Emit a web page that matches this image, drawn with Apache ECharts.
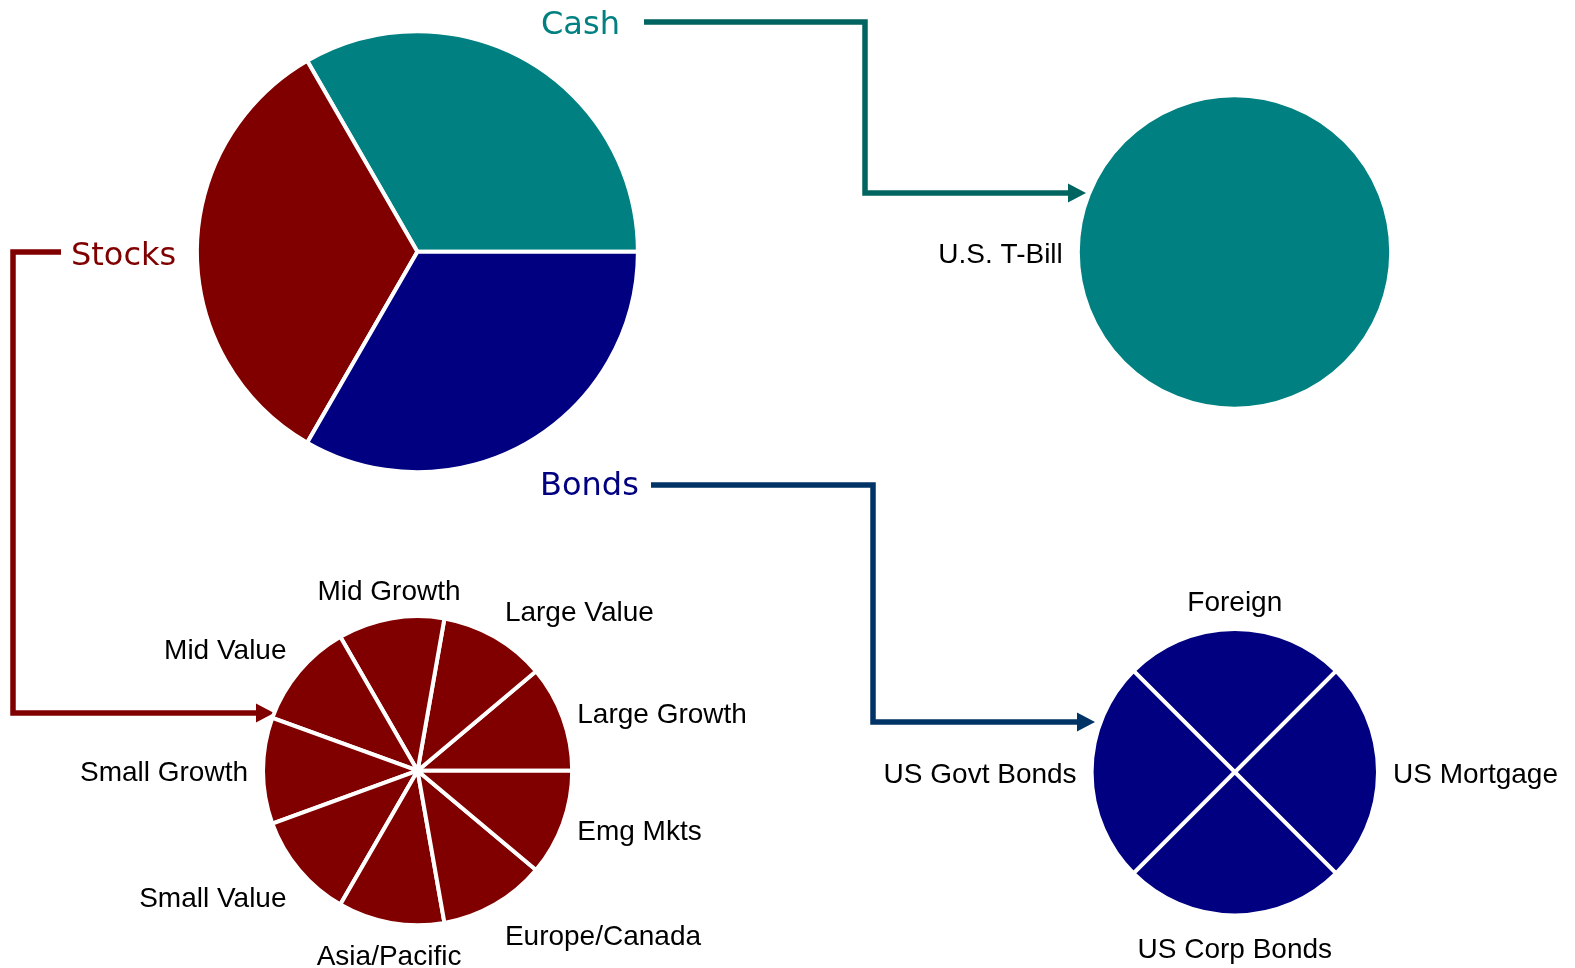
<!DOCTYPE html>
<html>
<head>
<meta charset="utf-8">
<script src="https://cdn.jsdelivr.net/npm/echarts@6/dist/echarts.min.js"></script>
<style>
  html, body { margin: 0; padding: 0; background: #ffffff; }
  #chart { width: 1575px; height: 968px; }
</style>
</head>
<body>
<div id="chart"></div>
<script>
// ---- Allocation data ----
const assetClasses = ['Cash', 'Stocks', 'Bonds'];
const assetWeights = [33.3, 33.3, 33.3];

const cashNames = ['U.S. T-Bill'];
const cashWeights = [100];

const stockNames = ['Large Growth', 'Large Value', 'Mid Growth', 'Mid Value', 'Small Growth',
                    'Small Value', 'Asia/Pacific', 'Europe/Canada', 'Emg Mkts'];
const stockWeights = [11.1, 11.1, 11.1, 11.1, 11.1, 11.1, 11.1, 11.1, 11.1];

const bondNames = ['US Mortgage', 'Foreign', 'US Govt Bonds', 'US Corp Bonds'];
const bondWeights = [25, 25, 25, 25];

// ---- Colours ----
const TEAL = '#008080', NAVY = '#000080', MAROON = '#800000';
const classColors = { Cash: TEAL, Stocks: MAROON, Bonds: NAVY };
const lineColors = { Cash: '#006460', Stocks: '#800000', Bonds: '#003366' };

// ---- Layout of the four pies (pixel centres, visible radius, start angle, ccw) ----
const BORDER = 4;
const pies = {
  main:   { center: [417.4, 251.7], r: 218.5, start: 0 },
  cash:   { center: [1234.5, 252.0], r: 154.7, start: 0 },
  stocks: { center: [417.6, 770.7], r: 152.6, start: 0 },
  bonds:  { center: [1234.8, 772.2], r: 141.2, start: -45 }
};

// Callout titles and elbow connectors for the main pie
const callouts = {
  Cash:   { text: [541, 26],  path: [[644, 22], [865, 22], [865, 193], [1070, 193]],  tip: [1086, 193] },
  Stocks: { text: [71, 257],  path: [[61, 252], [13, 252], [13, 713], [258, 713]],    tip: [274, 713] },
  Bonds:  { text: [540, 487], path: [[651, 485], [873, 485], [873, 722], [1079, 722]], tip: [1095, 722] }
};

// Mid angle (degrees, counter-clockwise) of each slice
function midAngles(values, start) {
  const total = values.reduce((a, b) => a + b, 0);
  let acc = 0;
  return values.map(v => {
    const a = start + (acc + v / 2) / total * 360;
    acc += v;
    return a;
  });
}

// Place an outside label next to a slice, aligned away from the pie
function outsideLabel(pie, angleDeg) {
  const t = angleDeg * Math.PI / 180;
  const c = Math.cos(t), s = Math.sin(t);
  const [cx, cy] = pie.center;
  let align = 'center', x = cx + c * (pie.r + 12);
  if (c > 0.3) { align = 'left'; x += 5; }
  else if (c < -0.3) { align = 'right'; x -= 5; }
  let y = cy - s * (pie.r + 18) + 3;
  if (s > 0.5) y -= 13;
  else if (s < -0.5) y += 16;
  return { x: x, y: y, align: align, verticalAlign: 'middle' };
}

function makeData(names, values, color) {
  return names.map((n, i) => ({ name: n, value: values[i], itemStyle: { color: color } }));
}

function subPie(key, names, values, color) {
  const pie = pies[key];
  const mids = midAngles(values, pie.start);
  return {
    type: 'pie',
    center: pie.center,
    radius: pie.r + BORDER / 2,
    startAngle: pie.start,
    clockwise: false,
    silent: true,
    avoidLabelOverlap: false,
    emphasis: { disabled: true },
    itemStyle: { borderColor: '#ffffff', borderWidth: BORDER },
    label: {
      show: true,
      position: 'outside',
      formatter: '{b}',
      color: '#000000',
      fontFamily: '"Liberation Sans", Arial, sans-serif',
      fontSize: 28
    },
    labelLine: { show: false },
    labelLayout: p => outsideLabel(pie, mids[p.dataIndex]),
    data: makeData(names, values, color)
  };
}

const mainSeries = {
  type: 'pie',
  center: pies.main.center,
  radius: pies.main.r + BORDER / 2,
  startAngle: pies.main.start,
  clockwise: false,
  silent: true,
  avoidLabelOverlap: false,
  emphasis: { disabled: true },
  itemStyle: { borderColor: '#ffffff', borderWidth: BORDER },
  label: {
    show: true,
    position: 'outside',
    formatter: '{b}',
    color: 'inherit',
    fontFamily: '"DejaVu Sans", Verdana, sans-serif',
    fontSize: 32
  },
  labelLine: { show: false },
  labelLayout: p => {
    const c = callouts[assetClasses[p.dataIndex]];
    return { x: c.text[0], y: c.text[1], align: 'left', verticalAlign: 'middle' };
  },
  data: assetClasses.map((n, i) => ({ name: n, value: assetWeights[i], itemStyle: { color: classColors[n] } }))
};

// Elbow connectors with arrow heads
const graphics = [];
assetClasses.forEach(n => {
  const c = callouts[n];
  const col = lineColors[n];
  graphics.push({
    type: 'polyline',
    silent: true,
    shape: { points: c.path },
    style: { stroke: col, lineWidth: 5.5, fill: null, lineJoin: 'miter', lineCap: 'butt' }
  });
  const [tx, ty] = c.tip;
  const base = c.path[c.path.length - 1][0] - 2;
  graphics.push({
    type: 'polygon',
    silent: true,
    shape: { points: [[tx, ty], [base, ty - 9.5], [base, ty + 9.5]] },
    style: { fill: col }
  });
});

const chart = echarts.init(document.getElementById('chart'), null, { renderer: 'canvas' });
chart.setOption({
  animation: false,
  backgroundColor: '#ffffff',
  series: [
    mainSeries,
    subPie('cash', cashNames, cashWeights, TEAL),
    subPie('stocks', stockNames, stockWeights, MAROON),
    subPie('bonds', bondNames, bondWeights, NAVY)
  ],
  graphic: graphics
});
</script>
</body>
</html>
